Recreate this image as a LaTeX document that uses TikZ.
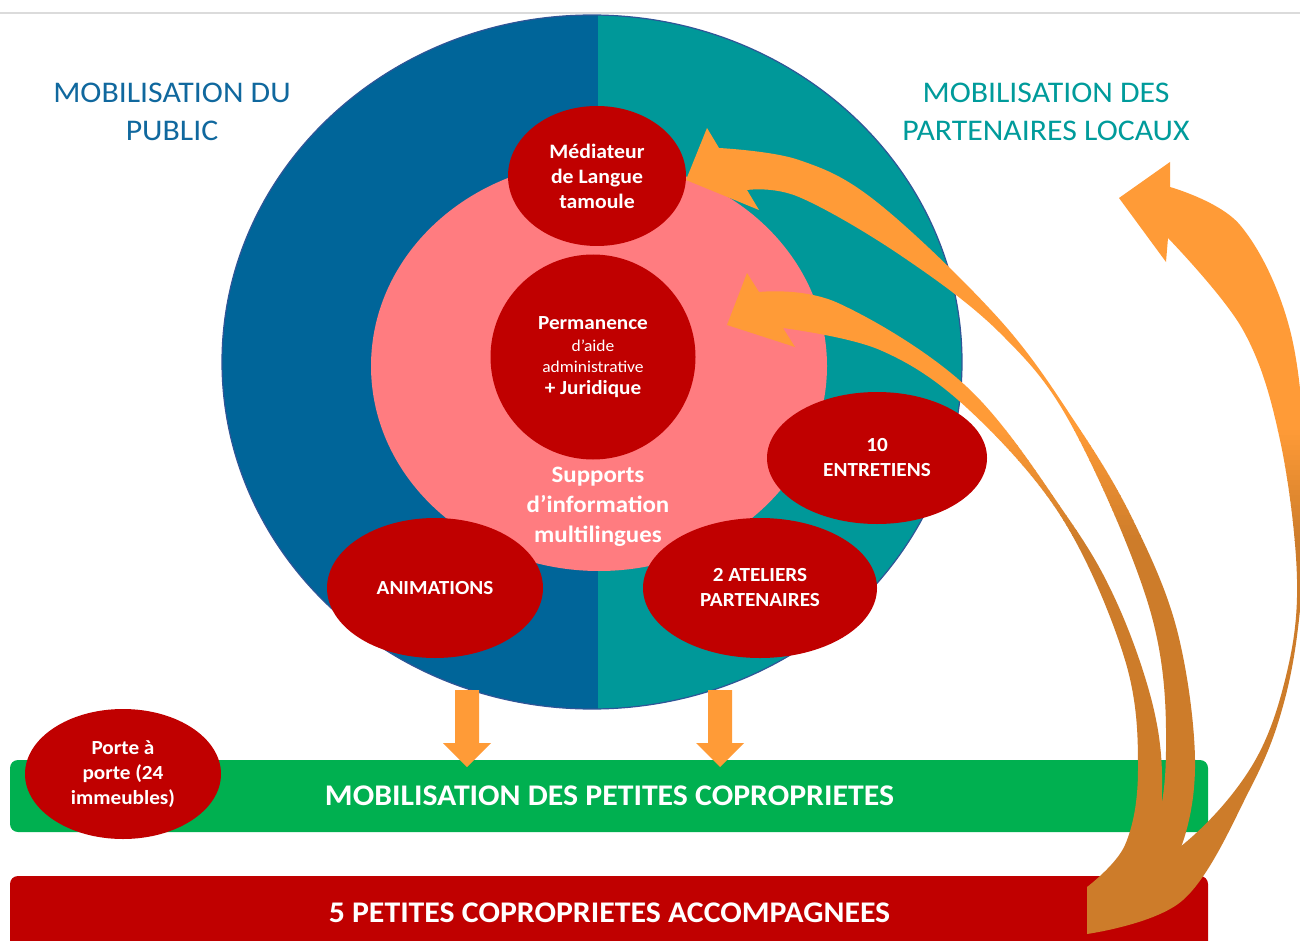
\documentclass[tikz,border=0pt]{standalone}
\usepackage{fontspec}
\setmainfont{Carlito}[FakeStretch=1.06]
\usetikzlibrary{shapes.geometric}
\definecolor{dblue}{RGB}{0,101,153}
\definecolor{dteal}{RGB}{0,152,153}
\definecolor{rimc}{RGB}{47,85,151}
\definecolor{pinkc}{RGB}{255,124,128}
\definecolor{redc}{RGB}{192,0,0}
\definecolor{greenc}{RGB}{0,176,80}
\definecolor{orangec}{RGB}{255,155,55}
\definecolor{brownc}{RGB}{205,124,42}
\definecolor{titleblue}{RGB}{16,104,158}
\definecolor{titleteal}{RGB}{0,155,155}
\newcommand\gradfill[1]{%
\begin{scope}
\clip #1;
\fill[orangec] (0,0) rectangle (1300,431);
\foreach \i in {0,...,21}{
  \pgfmathtruncatemacro\pp{\i*4.5+3}
  \fill[brownc!\pp!orangec] (0,430+5*\i) rectangle (1300,435.5+5*\i);
}
\fill[brownc] (0,540) rectangle (1300,941);
\end{scope}}
\begin{document}
\begin{tikzpicture}[x=1pt,y=-1pt,
 redell/.style={ellipse, fill=redc, inner sep=0pt, outer sep=0pt, text=white, align=center, font=\bfseries\fontsize{20.5}{25}\selectfont},
 titletext/.style={align=center, font=\fontsize{30}{38}\selectfont},
 barbox/.style={rounded corners=8pt, inner sep=0pt, outer sep=0pt, text=white, font=\bfseries\fontsize{30}{34}\selectfont},
 downarrow/.style={fill=orangec},
]
\useasboundingbox (0,0) rectangle (1300,941);
\clip (0,0) rectangle (1300,941);
\fill[white] (0,0) rectangle (1300,941);
\draw[line width=2.5pt, color=black!14] (0,13) -- (1300,13);

% titles
\node[titletext, text=titleblue] (t1) at (172,112) {MOBILISATION DU\\PUBLIC};
\node[titletext, text=titleteal] (t2) at (1046,112) {MOBILISATION DES\\PARTENAIRES LOCAUX};

% big circle
\node[ellipse, draw=rimc, line width=1.2pt, minimum width=740pt, minimum height=694pt, inner sep=0pt, outer sep=0pt,
  path picture={
  \fill[dblue] (path picture bounding box.south west) rectangle ([xshift=6pt]path picture bounding box.north);
  \fill[dteal] ([xshift=6pt]path picture bounding box.south) rectangle (path picture bounding box.north east);
}] (big) at (592,362) {};

\node[ellipse, fill=pinkc, minimum width=456pt, minimum height=410pt, inner sep=0pt] (pink) at (599,366) {};

\node[text=white, align=center, font=\bfseries\fontsize{23.5}{30}\selectfont] (supports) at (598,507) {Supports\\d’information\\multilingues};

\node[redell, minimum width=178pt, minimum height=140pt] (med) at (597,176) {Médiateur\\de Langue\\tamoule};
\node[redell, minimum width=205pt, minimum height=205pt, font=\fontsize{16.5}{21.5}\selectfont] (perm) at (593,357)
  {{\bfseries\fontsize{20}{22}\selectfont Permanence}\\d’aide\\administrative\\{\bfseries\fontsize{20}{24}\selectfont + Juridique}};
\node[redell, minimum width=220pt, minimum height=132pt, font=\bfseries\fontsize{20}{25}\selectfont] (entr) at (877,458) {10\\ENTRETIENS};
\node[redell, minimum width=216pt, minimum height=140pt, font=\bfseries\fontsize{20}{25}\selectfont] (anim) at (435,588) {ANIMATIONS};
\node[redell, minimum width=234pt, minimum height=140pt, font=\bfseries\fontsize{20}{25}\selectfont] (atel) at (760,588) {2 ATELIERS\\PARTENAIRES};

% bars
\node[barbox, fill=greenc, minimum width=1198pt, minimum height=72pt] (gbar) at (609,796) {\hspace*{1pt}MOBILISATION DES PETITES COPROPRIETES};
\node[barbox, fill=redc, minimum width=1198pt, minimum height=74pt] (rbar) at (609,913) {\hspace*{1pt}5 PETITES COPROPRIETES ACCOMPAGNEES};

\node[redell, minimum width=196pt, minimum height=130pt, font=\bfseries\fontsize{20}{25}\selectfont] (porte) at (123,774) {Porte à\\porte (24\\immeubles)};

% down arrows
\fill[downarrow] (455,690) -- (479,690) -- (479,743) -- (491,743) -- (467,767) -- (443,743) -- (455,743) -- cycle;
\fill[downarrow] (708,690) -- (732,690) -- (732,743) -- (744,743) -- (720,767) -- (696,743) -- (708,743) -- cycle;

% curved arrow to the mediator
\gradfill{plot[smooth, tension=0.6] coordinates {(1087,895) (1148,845) (1166,750) (1150,610) (1073,428) (1000,333) (900,255) (799,197) (747,190)}
 -- (759,210) -- (686,180) -- (707,128) -- (719,148)
 -- plot[smooth, tension=0.6] coordinates {(719,148) (799,160) (878,203) (1000,320) (1077,425) (1133,520) (1177,630) (1195,760) (1180,850) (1142,898) (1087,925)} -- cycle}

% curved arrow to the permanence
\gradfill{plot[smooth, tension=0.6] coordinates {(1087,887) (1125,845) (1138,769) (1125,660) (1062,518) (967,408) (880,350) (783,328)}
 -- (795,347) -- (727,325) -- (747,273) -- (759,292)
 -- plot[smooth, tension=0.6] coordinates {(759,292) (838,303) (967,387) (1066,515) (1117,603) (1153,706) (1162,789) (1150,865) (1087,910)} -- cycle}

% curved arrow to the right
\gradfill{plot[smooth, tension=0.6] coordinates {(1087,900) (1180,847) (1250,769) (1285,680) (1297,580) (1280,440) (1243,330) (1168,238)}
 -- (1166,262) -- (1119,198) -- (1170,162) -- (1170,187)
 -- plot[smooth, tension=0.6] coordinates {(1170,187) (1240,225) (1290,330) (1306,480) (1300,610) (1283,706) (1250,789) (1183,900) (1087,934)} -- cycle}
\end{tikzpicture}
\end{document}
